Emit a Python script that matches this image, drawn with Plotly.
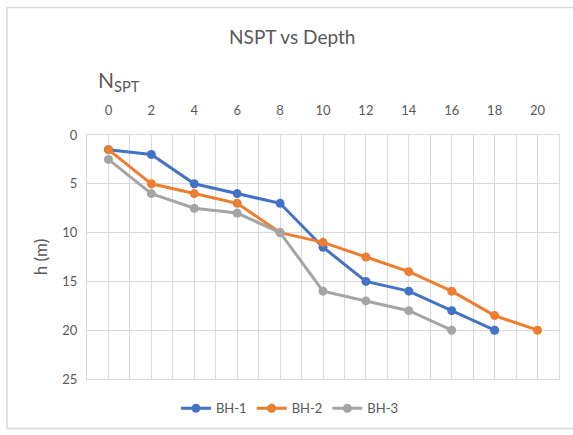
import plotly.graph_objects as go

bh1_n = [0, 2, 4, 6, 8, 10, 12, 14, 16, 18]
bh1_h = [1.5, 2, 5, 6, 7, 11.5, 15, 16, 18, 20]
bh2_n = [0, 2, 4, 6, 8, 10, 12, 14, 16, 18, 20]
bh2_h = [1.5, 5, 6, 7, 10, 11, 12.5, 14, 16, 18.5, 20]
bh3_n = [0, 2, 4, 6, 8, 10, 12, 14, 16]
bh3_h = [2.5, 6, 7.5, 8, 10, 16, 17, 18, 20]
x_ticks = [0, 2, 4, 6, 8, 10, 12, 14, 16, 18, 20]
y_ticks = [0, 5, 10, 15, 20, 25]

FONT = "Lato"
TXT = "#595959"
GRID = "#D9D9D9"

fig = go.Figure()
for name, xs, ys, col in [("BH-1", bh1_n, bh1_h, "#4472C4"),
                          ("BH-2", bh2_n, bh2_h, "#ED7D31"),
                          ("BH-3", bh3_n, bh3_h, "#A5A5A5")]:
    fig.add_trace(go.Scatter(x=xs, y=ys, mode="lines+markers", name=name,
                             line=dict(color=col, width=3),
                             marker=dict(color=col, size=9)))

fig.update_layout(
    width=573, height=435,
    margin=dict(l=87, r=14, t=135, b=53),
    paper_bgcolor="white", plot_bgcolor="white",
    font=dict(family=FONT, color=TXT, size=13),
    title=dict(text="NSPT vs Depth", x=0.51, xanchor="center", y=0.915, yanchor="middle",
               font=dict(size=19, color=TXT, family=FONT)),
    showlegend=True,
    legend=dict(orientation="h", x=0.43, xanchor="center", y=-0.12, yanchor="middle",
                font=dict(size=13, color=TXT), itemwidth=30, tracegroupgap=0),
    xaxis=dict(side="top", range=[-1, 21], tickvals=x_ticks, showgrid=True,
               gridcolor=GRID, gridwidth=1, zeroline=False, automargin=False,
               minor=dict(dtick=1, tick0=-1, showgrid=True, gridcolor=GRID, gridwidth=1),
               showline=True, linecolor=GRID, mirror=True,
               ticks="outside", ticklen=14, tickcolor="rgba(0,0,0,0)",
               tickfont=dict(size=13, color=TXT)),
    yaxis=dict(range=[25, 0], tickvals=y_ticks, showgrid=True, gridcolor=GRID,
               zeroline=False, showline=True, linecolor=GRID, mirror=True, automargin=False,
               ticks="outside", ticklen=6, tickcolor="rgba(0,0,0,0)",
               title=dict(text="h (m)", font=dict(size=17, color=TXT), standoff=10),
               tickfont=dict(size=13, color=TXT)),
)
fig.add_annotation(text="N<sub>SPT</sub>", xref="paper", yref="paper",
                   x=(96 - 87) / 472, xanchor="left", y=(382 - 80) / 247,
                   yanchor="middle", showarrow=False, font=dict(size=21, color=TXT, family=FONT))
fig.add_shape(type="rect", xref="paper", yref="paper",
              x0=(7 - 87) / 472, x1=(575 - 87) / 472, y0=(382 - 432) / 247, y1=(382 - 6) / 247,
              line=dict(color="#D9D9D9", width=1.5))
fig.write_html("out.html", config={"displayModeBar": False},
               post_script="document.body.style.margin='0px';")
